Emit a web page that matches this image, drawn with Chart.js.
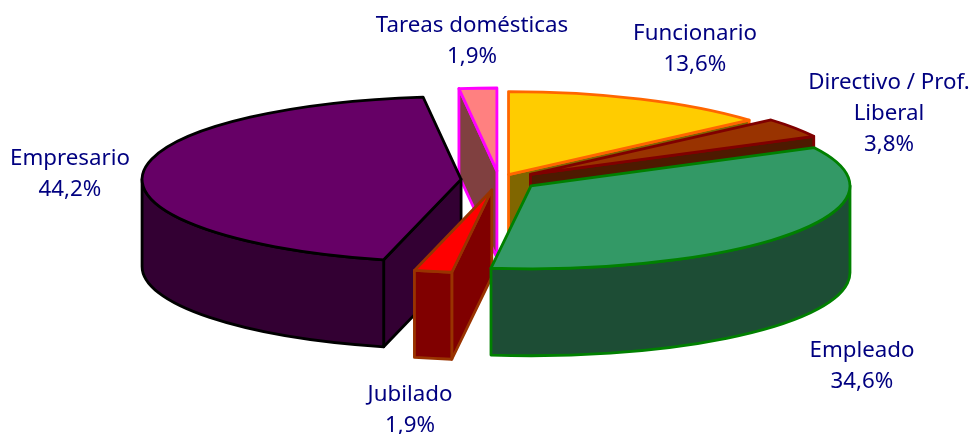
<!DOCTYPE html>
<html lang="es">
<head>
    <meta charset="UTF-8">
    <title>Ocupación</title>
    <script src="https://cdn.jsdelivr.net/npm/chart.js"></script>
    <style>
        html, body { margin: 0; background: #fff; }
        #wrap { width: 973px; height: 434px; }
    </style>
</head>
<body>
    <div id="wrap"><canvas id="pieChart"></canvas></div>
    <script>
        // Data
        const categories = ['Funcionario', 'Directivo / Prof.\nLiberal', 'Empleado', 'Jubilado', 'Empresario', 'Tareas domésticas'];
        const shares = [13.6, 3.8, 34.6, 1.9, 44.2, 1.9];

        // Slice styles
        const topColors = ['#FFCC00', '#993300', '#339966', '#FF0000', '#660066', '#FF8080'];
        const wallColors = ['#806600', '#4D1A00', '#1D4D35', '#800000', '#330033', '#804040'];
        const edgeColors = ['#FF6600', '#800000', '#008000', '#993300', '#000000', '#FF00FF'];
        const explode = [23, 38, 39, 39, 38, 35];
        const drawOrder = [5, 4, 3, 0, 1, 2];

        // Label centres, first line
        const labelX = [695, 889, 862, 410, 70, 472];
        const labelY = [34, 83, 351, 395, 159, 26];

        const SQUASH = 0.26;
        const DEPTH = 87;
        const LINE_STEP = 31;

        function visibleRim(a0, a1) {
            // wall shows where the rim faces down, 0..PI on the canvas
            const from = Math.max(a0, 0);
            const to = Math.min(a1, Math.PI);
            return to > from ? [from, to] : null;
        }

        function drawSlice(ctx, arc, i) {
            const r = arc.outerRadius;
            const ry = r * SQUASH;
            const mid = (arc.startAngle + arc.endAngle) / 2;
            const cx = arc.x + Math.cos(mid) * explode[i];
            const cy = arc.y + Math.sin(mid) * explode[i] * SQUASH;
            const px = a => cx + Math.cos(a) * r;
            const py = a => cy + Math.sin(a) * ry;

            ctx.lineWidth = 2.8;
            ctx.lineJoin = 'round';
            ctx.fillStyle = wallColors[i];
            ctx.strokeStyle = edgeColors[i];

            // radial faces, only the ones turned to the viewer
            [arc.startAngle, arc.endAngle].forEach((a, k) => {
                const facing = k === 0 ? Math.cos(a) < -0.001 : Math.cos(a) > 0.001;
                if (!facing) return;
                ctx.beginPath();
                ctx.moveTo(cx, cy);
                ctx.lineTo(px(a), py(a));
                ctx.lineTo(px(a), py(a) + DEPTH);
                ctx.lineTo(cx, cy + DEPTH);
                ctx.closePath();
                ctx.fill();
                ctx.stroke();
            });

            // outer wall
            const rim = visibleRim(arc.startAngle, arc.endAngle);
            if (rim) {
                ctx.beginPath();
                ctx.ellipse(cx, cy, r, ry, 0, rim[0], rim[1]);
                ctx.lineTo(px(rim[1]), py(rim[1]) + DEPTH);
                ctx.ellipse(cx, cy + DEPTH, r, ry, 0, rim[1], rim[0], true);
                ctx.closePath();
                ctx.fill();
                ctx.stroke();
            }

            // top face, filled by the arc element itself
            ctx.save();
            ctx.translate(cx, cy);
            ctx.scale(1, SQUASH);
            ctx.translate(-arc.x, -arc.y);
            arc.draw(ctx);
            ctx.restore();

            ctx.beginPath();
            ctx.moveTo(cx, cy);
            ctx.ellipse(cx, cy, r, ry, 0, arc.startAngle, arc.endAngle);
            ctx.closePath();
            ctx.stroke();
        }

        const pie3d = {
            id: 'pie3d',
            beforeDatasetDraw(chart, args) {
                const ctx = chart.ctx;
                const arcs = args.meta.data;
                ctx.save();
                drawOrder.forEach(i => drawSlice(ctx, arcs[i], i));
                ctx.restore();
                return false;
            },
            afterDraw(chart) {
                const ctx = chart.ctx;
                ctx.save();
                ctx.font = '22.3px "Noto Sans"';
                ctx.fillStyle = '#000080';
                ctx.textAlign = 'center';
                ctx.textBaseline = 'middle';
                categories.forEach((name, i) => {
                    const value = shares[i].toFixed(1).replace('.', ',') + '%';
                    name.split('\n').concat(value).forEach((line, k) => {
                        ctx.fillText(line, labelX[i], labelY[i] + k * LINE_STEP);
                    });
                });
                ctx.restore();
            }
        };

        new Chart(document.getElementById('pieChart'), {
            type: 'pie',
            data: {
                labels: categories,
                datasets: [{
                    data: shares,
                    backgroundColor: topColors,
                    borderWidth: 0,
                    clip: false
                }]
            },
            options: {
                responsive: true,
                maintainAspectRatio: false,
                animation: false,
                radius: 319,
                layout: { padding: { left: 25, bottom: 74 } },
                plugins: {
                    legend: { display: false },
                    tooltip: { enabled: false }
                }
            },
            plugins: [pie3d]
        });
    </script>
</body>
</html>
